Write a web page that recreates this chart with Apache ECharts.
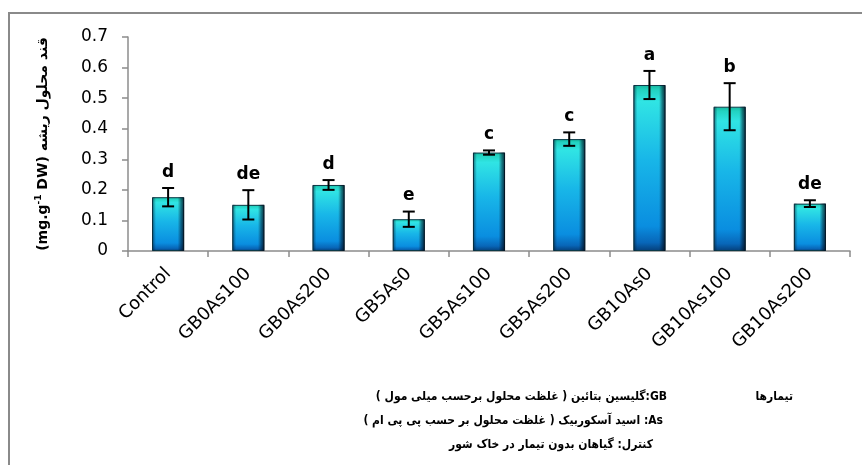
<!DOCTYPE html>
<html>
<head>
<meta charset="utf-8">
<script src="https://cdn.jsdelivr.net/npm/echarts@6/dist/echarts.min.js"></script>
<style>
  html, body { margin: 0; padding: 0; background: #ffffff; }
  #chart { width: 862px; height: 465px; }
</style>
</head>
<body>
<div id="chart"></div>
<script>
// Treatments on the category axis
const categories = ['Control', 'GB0As100', 'GB0As200', 'GB5As0', 'GB5As100', 'GB5As200', 'GB10As0', 'GB10As100', 'GB10As200'];
// Mean root soluble sugar (mg.g-1 DW)
const means = [0.176, 0.151, 0.216, 0.104, 0.322, 0.366, 0.543, 0.472, 0.155];
// Standard error of each mean
const errors = [0.030, 0.048, 0.016, 0.025, 0.007, 0.022, 0.046, 0.077, 0.011];
// Duncan grouping letters
const letters = ['d', 'de', 'd', 'e', 'c', 'c', 'a', 'b', 'de'];
// Value axis range
const yMin = 0;
const yMax = 0.7;
const yStep = 0.1;

// Footnote lines (Persian)
const noteTitle = 'تیمارها';
const noteLines = [
  'GB:گلیسین بتائین ( غلظت محلول برحسب میلی مول )',
  'As: اسید آسکوربیک ( غلظت محلول بر حسب پی پی ام )',
  'کنترل: گیاهان بدون تیمار در خاک شور'
];

const RLE = '\u202B', PDF = '\u202C';
const axisFont = 'DejaVu Sans';
const noteFont = 'bold 12px "DejaVu Sans Condensed", "DejaVu Sans"';

const chart = echarts.init(document.getElementById('chart'), null, { renderer: 'canvas' });

const errData = means.map((m, i) => [i, m - errors[i], m + errors[i]]);

const option = {
  backgroundColor: '#ffffff',
  animation: false,
  grid: { left: 128, right: 12, top: 37, bottom: 214, containLabel: false },
  xAxis: {
    type: 'category',
    data: categories,
    axisLine: { lineStyle: { color: '#8c8c8c', width: 1.5 } },
    axisTick: { show: true, length: 6, lineStyle: { color: '#8c8c8c', width: 1.5 } },
    axisLabel: {
      rotate: 45, margin: 20, color: '#000000',
      fontFamily: axisFont, fontSize: 18, interval: 0
    },
    splitLine: { show: false }
  },
  yAxis: {
    type: 'value',
    min: yMin, max: yMax, interval: yStep,
    axisLine: { show: true, lineStyle: { color: '#8c8c8c', width: 1.5 } },
    axisTick: { show: true, length: 6, lineStyle: { color: '#8c8c8c', width: 1.5 } },
    axisLabel: {
      margin: 20, color: '#000000', fontFamily: axisFont, fontSize: 17,
      formatter: v => (v === 0 ? '0' : v.toFixed(1))
    },
    splitLine: { show: false },
    name: '{a|(mg.g}{s|-1}{a| DW) قند محلول ریشه}',
    nameLocation: 'middle',
    nameRotate: 90,
    nameGap: 76,
    nameTextStyle: {
      rich: {
        a: { fontFamily: axisFont, fontWeight: 'bold', fontSize: 14, color: '#000000', lineHeight: 18 },
        s: { fontFamily: axisFont, fontWeight: 'bold', fontSize: 9, color: '#000000', lineHeight: 10, verticalAlign: 'top' }
      }
    }
  },
  series: [
    {
      type: 'bar',
      data: means,
      barWidth: '40%',
      itemStyle: {
        borderColor: '#0b3a48',
        borderWidth: 1,
        color: new echarts.graphic.LinearGradient(0, 0, 0, 1, [
          { offset: 0, color: '#15b59c' },
          { offset: 0.03, color: '#22d2c0' },
          { offset: 0.1, color: '#30e4e4' },
          { offset: 0.45, color: '#18b6e8' },
          { offset: 0.85, color: '#0a8ee0' },
          { offset: 0.95, color: '#0866b8' },
          { offset: 1, color: '#053e78' }
        ])
      },
      z: 2
    },
    {
      // side shading that gives the bars their bevelled look
      type: 'bar',
      data: means,
      barWidth: '40%',
      barGap: '-100%',
      silent: true,
      itemStyle: {
        color: new echarts.graphic.LinearGradient(0, 0, 1, 0, [
          { offset: 0, color: 'rgba(0,30,50,0.6)' },
          { offset: 0.12, color: 'rgba(0,30,50,0.0)' },
          { offset: 0.8, color: 'rgba(0,20,40,0.0)' },
          { offset: 0.9, color: 'rgba(0,20,40,0.5)' },
          { offset: 1, color: 'rgba(0,10,25,0.85)' }
        ])
      },
      z: 3
    },
    {
      type: 'custom',
      data: errData,
      silent: true,
      z: 5,
      renderItem: function (params, api) {
        const i = api.value(0);
        const lo = api.coord([i, api.value(1)]);
        const hi = api.coord([i, api.value(2)]);
        const cap = 6;
        const st = { stroke: '#000000', lineWidth: 2 };
        return {
          type: 'group',
          children: [
            { type: 'line', shape: { x1: hi[0], y1: hi[1], x2: lo[0], y2: lo[1] }, style: st },
            { type: 'line', shape: { x1: hi[0] - cap, y1: hi[1], x2: hi[0] + cap, y2: hi[1] }, style: st },
            { type: 'line', shape: { x1: lo[0] - cap, y1: lo[1], x2: lo[0] + cap, y2: lo[1] }, style: st },
            {
              type: 'text',
              x: hi[0], y: hi[1] - 7,
              style: {
                text: letters[params.dataIndex],
                fill: '#000000',
                font: 'bold 17px "DejaVu Sans"',
                textAlign: 'center',
                textVerticalAlign: 'bottom'
              }
            }
          ]
        };
      }
    }
  ],
  graphic: [
    {
      type: 'polyline',
      shape: { points: [[9, 465], [9, 13], [862, 13]] },
      style: { stroke: '#8a8a8a', lineWidth: 2, fill: null },
      silent: true
    },
    {
      type: 'text', x: 793, y: 397,
      style: { text: RLE + noteTitle + PDF, font: noteFont, fill: '#000', textAlign: 'right', textVerticalAlign: 'middle' }
    },
    {
      type: 'text', x: 667, y: 397,
      style: { text: RLE + noteLines[0] + PDF, font: noteFont, fill: '#000', textAlign: 'right', textVerticalAlign: 'middle' }
    },
    {
      type: 'text', x: 663, y: 421,
      style: { text: RLE + noteLines[1] + PDF, font: noteFont, fill: '#000', textAlign: 'right', textVerticalAlign: 'middle' }
    },
    {
      type: 'text', x: 653, y: 445,
      style: { text: RLE + noteLines[2] + PDF, font: noteFont, fill: '#000', textAlign: 'right', textVerticalAlign: 'middle' }
    }
  ]
};

chart.setOption(option);
</script>
</body>
</html>
